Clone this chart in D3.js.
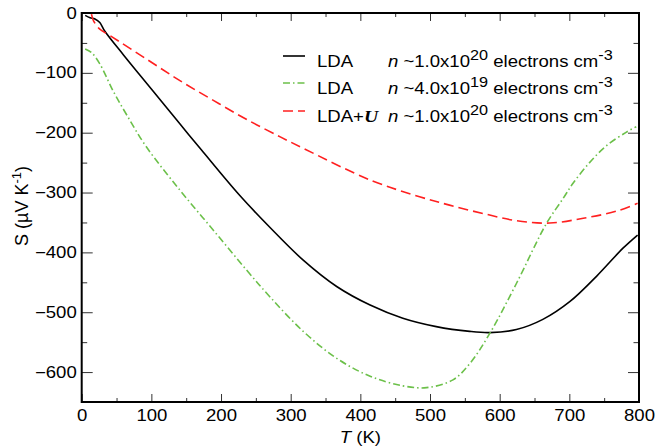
<!DOCTYPE html>
<html>
<head>
<meta charset="utf-8">
<script src="https://cdn.jsdelivr.net/npm/d3@7"></script>
<style>
  body { margin: 0; background: #fff; }
  svg { font-family: "Liberation Sans", Arial, Helvetica, sans-serif; }
</style>
</head>
<body>
<svg id="chart" width="655" height="448"></svg>
<script>
// data: T (K) and S (uV/K)
var ldaT   = [5, 12, 19, 26, 33, 60, 100, 140, 172, 227, 270, 318, 366, 414, 461, 509, 557, 586, 624, 662, 701, 739, 777, 798];
var ldaS   = [-4, -8, -10, -16, -30, -70, -127, -184, -229, -305, -358, -413, -457, -488, -510, -524, -532, -534, -529, -512, -482, -440, -393, -371];

var lda19T = [5, 14, 26, 45, 65, 93, 141, 189, 237, 270, 318, 366, 414, 461, 495, 533, 557, 586, 624, 667, 691, 705, 729, 753, 782, 796];
var lda19S = [-60, -66, -85, -130, -171, -224, -296, -363, -430, -474, -532, -577, -607, -623, -626, -613, -586, -535, -452, -352, -310, -285, -250, -222, -199, -190];

var ldauT  = [14, 17, 26, 41, 93, 141, 189, 237, 285, 318, 414, 485, 528, 576, 624, 672, 720, 768, 798];
var ldauS  = [-2, -13, -27, -38, -77, -113, -146, -178, -207, -226, -279, -307, -321, -335, -347, -351, -343, -331, -318];

var xTicks = [0, 100, 200, 300, 400, 500, 600, 700, 800];
var yTicks = [0, -100, -200, -300, -400, -500, -600];

var series = [
    { name: "LDA", n: "1.0x10", e: "20", T: ldaT, S: ldaS, color: "#000000", dash: null },
    { name: "LDA", n: "4.0x10", e: "19", T: lda19T, S: lda19S, color: "#6cc04a", dash: "7,3,1.5,3" },
    { name: "LDA+", n: "1.0x10", e: "20", T: ldauT, S: ldauS, color: "#ff2020", dash: "10,5", u: true }
];

(function () {
    var svg = d3.select("#chart");
    var pL = 81.7, pR = 639, pT = 13, pB = 402;
    var sx = "scale(1.16,1)"; // the reference text is a bit wider than Arial

    var x = d3.scaleLinear().domain([0, 800]).range([pL, pR]);
    var y = d3.scaleLinear().domain([0, -650]).range([pT, pB]);

    var minorX = d3.range(50, 800, 100);
    var minorY = d3.range(-50, -650, -100);

    // axes, ticks pointing in on all four sides
    function styleAxis(g) {
        g.select(".domain").remove();
        g.selectAll(".tick line").attr("stroke", "#333").attr("stroke-width", 1);
        g.selectAll("text").attr("fill", "#000").style("font-size", "16px").attr("transform", sx);
    }

    svg.append("g").attr("transform", "translate(0," + pB + ")")
        .call(d3.axisBottom(x).tickValues(xTicks).tickSize(-8).tickPadding(8).tickFormat(d3.format("d")))
        .call(styleAxis);
    svg.append("g").attr("transform", "translate(0," + pB + ")")
        .call(d3.axisBottom(x).tickValues(minorX).tickSize(-4).tickFormat(""))
        .call(styleAxis);
    svg.append("g").attr("transform", "translate(0," + pT + ")")
        .call(d3.axisTop(x).tickValues(xTicks).tickSize(-8).tickFormat(""))
        .call(styleAxis);
    svg.append("g").attr("transform", "translate(0," + pT + ")")
        .call(d3.axisTop(x).tickValues(minorX).tickSize(-4).tickFormat(""))
        .call(styleAxis);

    svg.append("g").attr("transform", "translate(" + pL + ",0)")
        .call(d3.axisLeft(y).tickValues(yTicks).tickSize(-11).tickPadding(4.3).tickFormat(d3.format("d")))
        .call(styleAxis);
    svg.append("g").attr("transform", "translate(" + pL + ",0)")
        .call(d3.axisLeft(y).tickValues(minorY).tickSize(-5.5).tickFormat(""))
        .call(styleAxis);
    svg.append("g").attr("transform", "translate(" + pR + ",0)")
        .call(d3.axisRight(y).tickValues(yTicks).tickSize(-11).tickFormat(""))
        .call(styleAxis);
    svg.append("g").attr("transform", "translate(" + pR + ",0)")
        .call(d3.axisRight(y).tickValues(minorY).tickSize(-5.5).tickFormat(""))
        .call(styleAxis);

    // frame
    svg.append("rect")
        .attr("x", pL).attr("y", pT)
        .attr("width", pR - pL).attr("height", pB - pT)
        .attr("fill", "none").attr("stroke", "#000").attr("stroke-width", 2);

    // curves
    var line = d3.line()
        .x(function (d) { return x(d[0]); })
        .y(function (d) { return y(d[1]); })
        .curve(d3.curveCatmullRom.alpha(0.5));

    svg.append("clipPath").attr("id", "plotclip")
        .append("rect").attr("x", pL).attr("y", pT)
        .attr("width", pR - pL).attr("height", pB - pT);

    series.forEach(function (s) {
        var pts = s.T.map(function (t, i) { return [t, s.S[i]]; });
        svg.append("path")
            .datum(pts)
            .attr("d", line)
            .attr("fill", "none")
            .attr("stroke", s.color)
            .attr("stroke-width", 1.6)
            .attr("stroke-dasharray", s.dash)
            .attr("clip-path", "url(#plotclip)");
    });

    // text placed at (tx,ty) and widened like the reference
    function wideText(tx, ty, size) {
        return svg.append("g").attr("transform", "translate(" + tx + "," + ty + ") " + sx)
            .append("text").style("font-size", size + "px");
    }

    // legend
    var legY = [56, 83, 111];
    series.forEach(function (s, i) {
        var ly = legY[i];
        svg.append("line")
            .attr("x1", 283).attr("x2", 305).attr("y1", ly).attr("y2", ly)
            .attr("stroke", s.color).attr("stroke-width", 1.6)
            .attr("stroke-dasharray", s.dash);

        var t1 = wideText(317, ly + 11, 16);
        t1.append("tspan").text(s.name);
        if (s.u) {
            t1.append("tspan").text("U")
                .style("font-family", "'Liberation Serif', 'Times New Roman', serif")
                .style("font-size", "17px")
                .style("font-style", "italic").style("font-weight", "bold");
        }

        var t2 = wideText(388, ly + 11, 16);
        t2.append("tspan").text("n").style("font-style", "italic");
        t2.append("tspan").text(" ~" + s.n);
        t2.append("tspan").text(s.e).attr("dy", -7).style("font-size", "14px");
        t2.append("tspan").text(" electrons cm").attr("dy", 7);
        t2.append("tspan").text("-3").attr("dy", -7).style("font-size", "14px");
    });

    // axis titles
    var xt = wideText((pL + pR) / 2, 443, 16).attr("text-anchor", "middle");
    xt.append("tspan").text("T").style("font-style", "italic");
    xt.append("tspan").text(" (K)");

    var yt = svg.append("text")
        .attr("transform", "translate(28,206) rotate(-90)")
        .attr("text-anchor", "middle").style("font-size", "18px");
    yt.append("tspan").text("S (\u00b5V K");
    yt.append("tspan").text("-1").attr("dy", -7).style("font-size", "13px");
    yt.append("tspan").text(")").attr("dy", 7);
})();
</script>
</body>
</html>
